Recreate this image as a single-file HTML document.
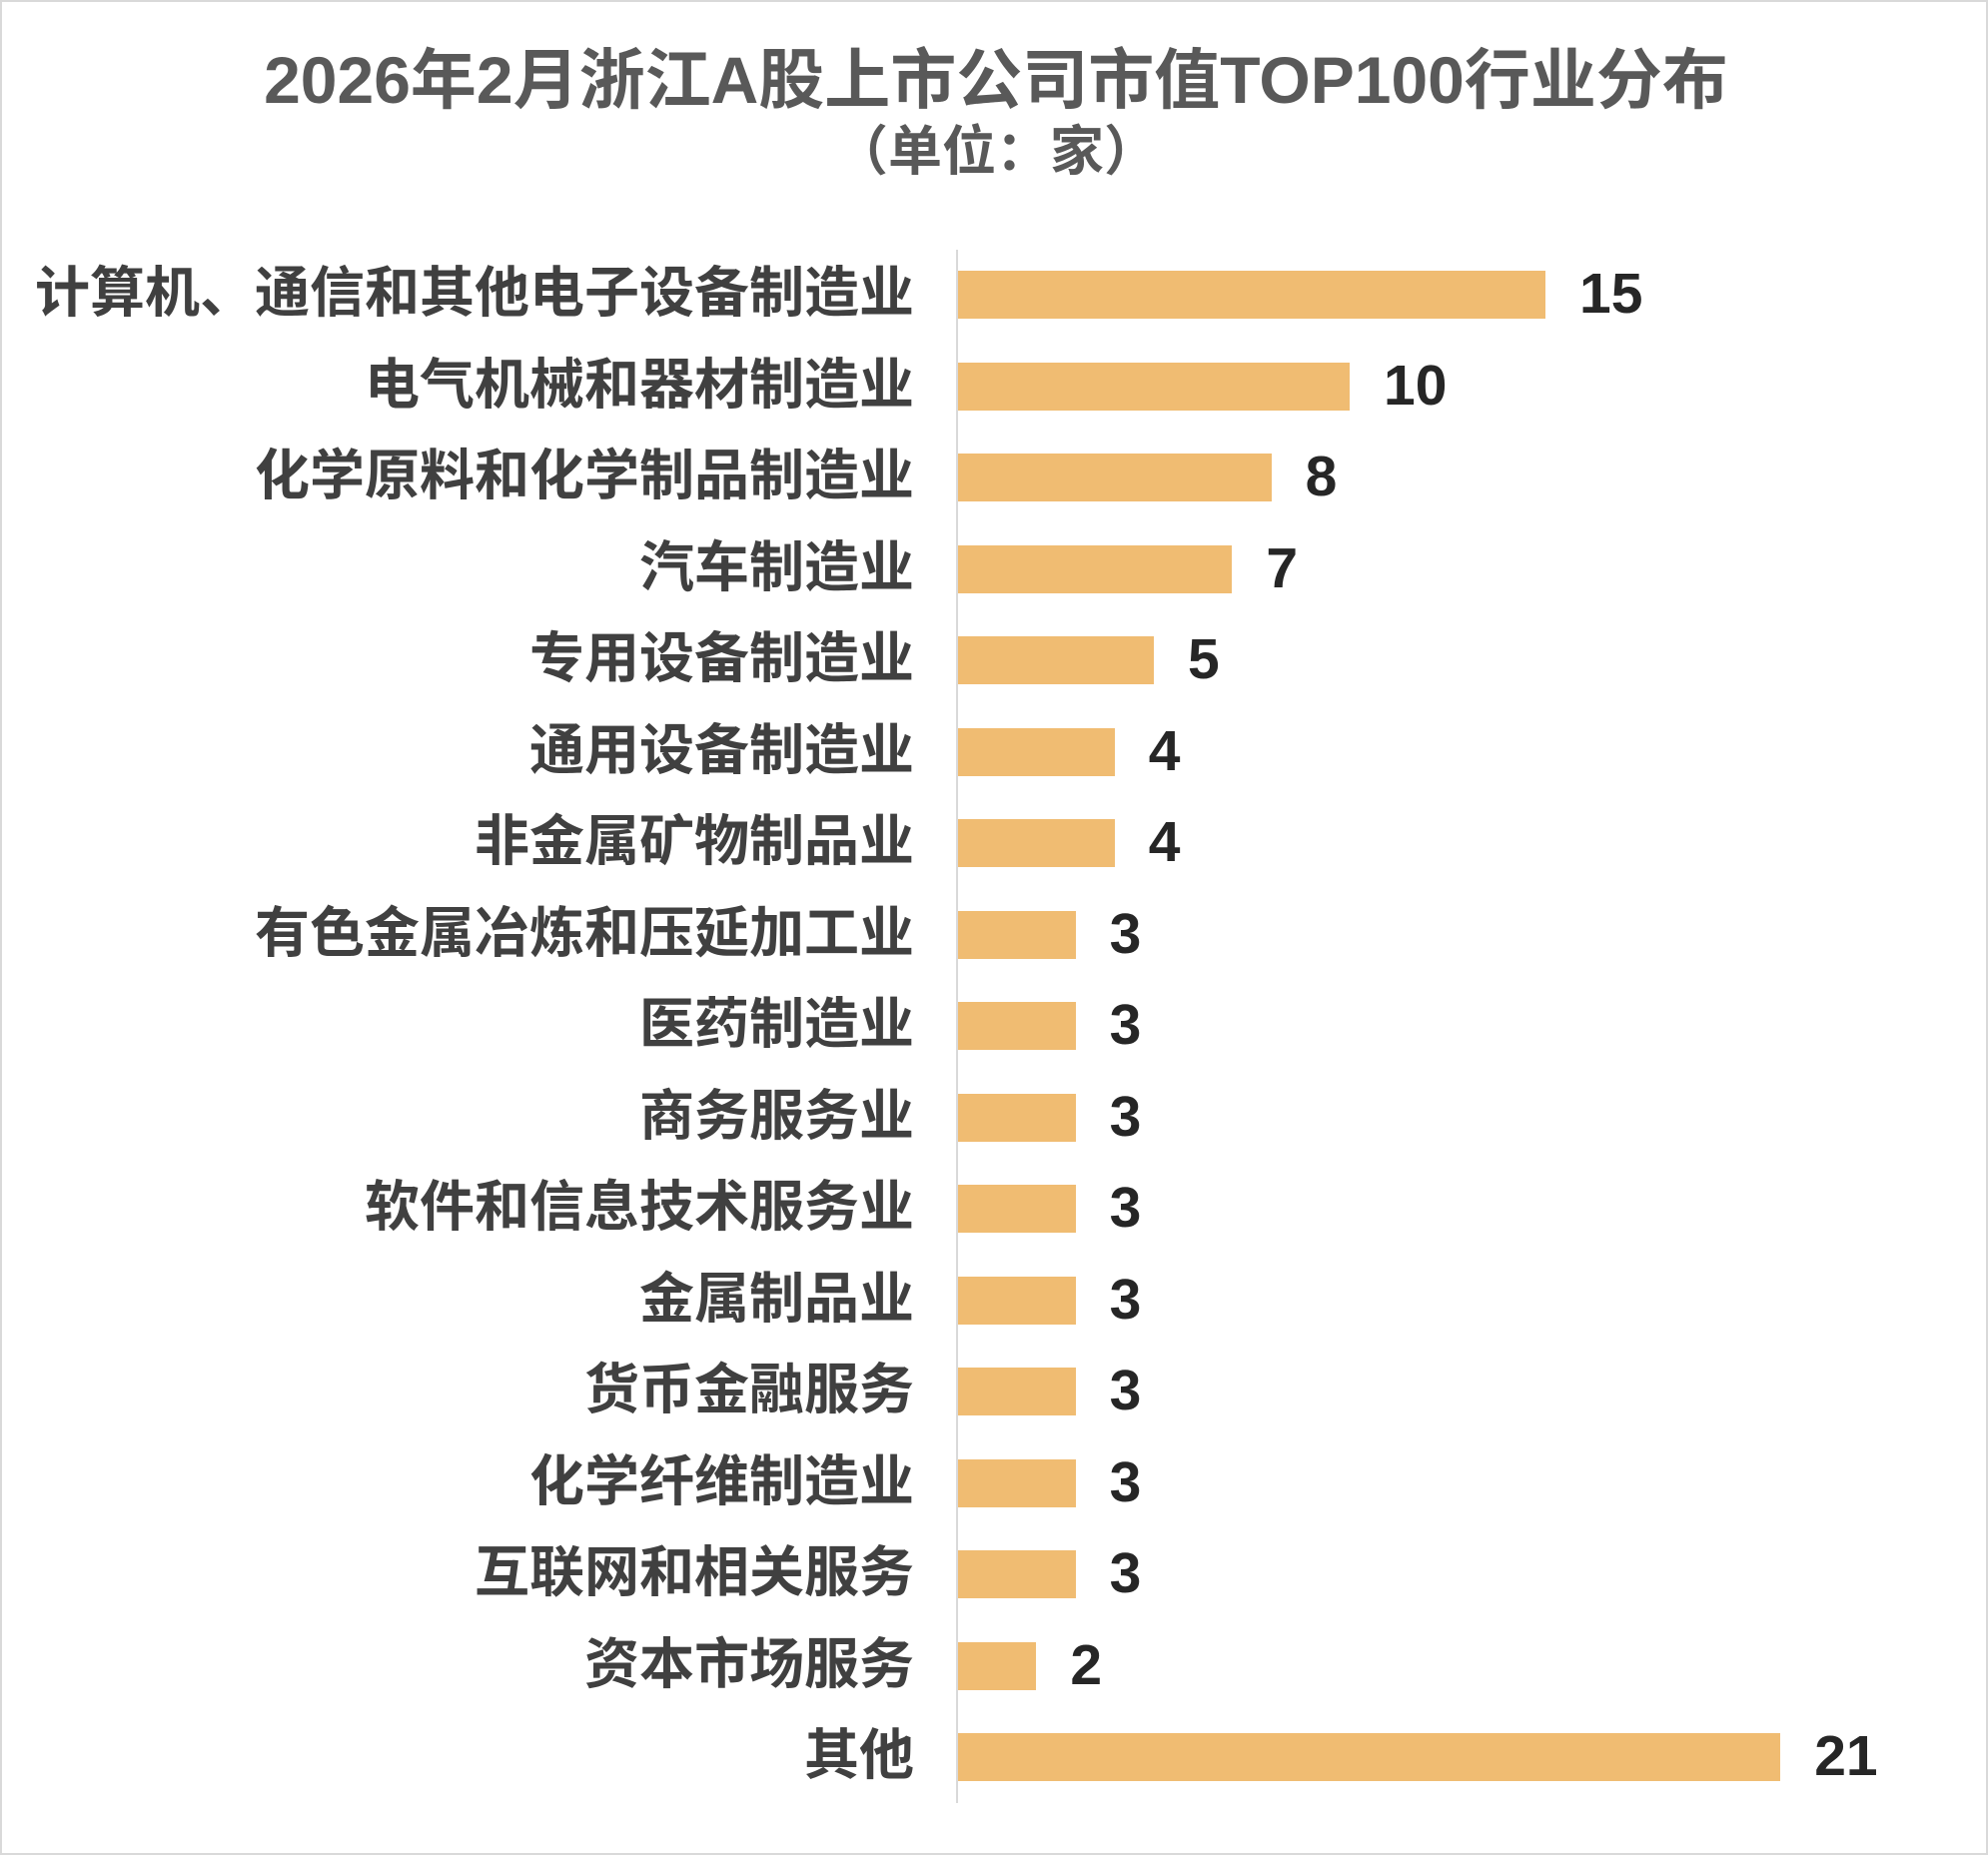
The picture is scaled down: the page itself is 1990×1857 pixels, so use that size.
<!DOCTYPE html>
<html><head><meta charset="utf-8"><style>
html,body{margin:0;padding:0;background:#fff;}
#c{position:relative;width:1990px;height:1857px;overflow:hidden;background:#fff;box-sizing:border-box;border:2px solid #d9d9d9;font-family:"Liberation Sans","Noto Sans CJK SC",sans-serif;color:#404040;}
.t{position:absolute;left:0;width:1990px;text-align:center;font-weight:bold;color:#595959;}
.lab{position:absolute;right:1073px;font-weight:bold;font-size:55px;line-height:64px;white-space:nowrap;color:#404040;}
.bar{position:absolute;left:957px;height:48px;background:#F0BC72;}
.v{position:absolute;font-weight:bold;font-size:57px;line-height:64px;color:#262626;}
#ax{position:absolute;left:955px;top:248px;width:2px;height:1555px;background:#d9d9d9;}
</style></head><body><div id="c">
<div class="t" style="top:40px;font-size:66px;line-height:76px;">2026年2月浙江A股上市公司市值TOP100行业分布</div>
<div class="t" style="top:118px;font-size:54px;line-height:64px;">（单位：家）</div>
<div id="ax"></div>
<div id="rows"></div>
</div>
<script>
var d=[["计算机、通信和其他电子设备制造业",15],["电气机械和器材制造业",10],["化学原料和化学制品制造业",8],["汽车制造业",7],["专用设备制造业",5],["通用设备制造业",4],["非金属矿物制品业",4],["有色金属冶炼和压延加工业",3],["医药制造业",3],["商务服务业",3],["软件和信息技术服务业",3],["金属制品业",3],["货币金融服务",3],["化学纤维制造业",3],["互联网和相关服务",3],["资本市场服务",2],["其他",21]];
var h="";
for(var i=0;i<d.length;i++){var cy=293+i*91.5;var w=d[i][1]*39.2;
h+='<div class="lab" style="top:'+(cy-34)+'px">'+d[i][0]+'</div>';
h+='<div class="bar" style="top:'+(cy-24)+'px;width:'+w+'px"></div>';
h+='<div class="v" style="top:'+(cy-33)+'px;left:'+(957+w+34)+'px">'+d[i][1]+'</div>';}
document.getElementById("rows").innerHTML=h;
</script>
</body></html>
